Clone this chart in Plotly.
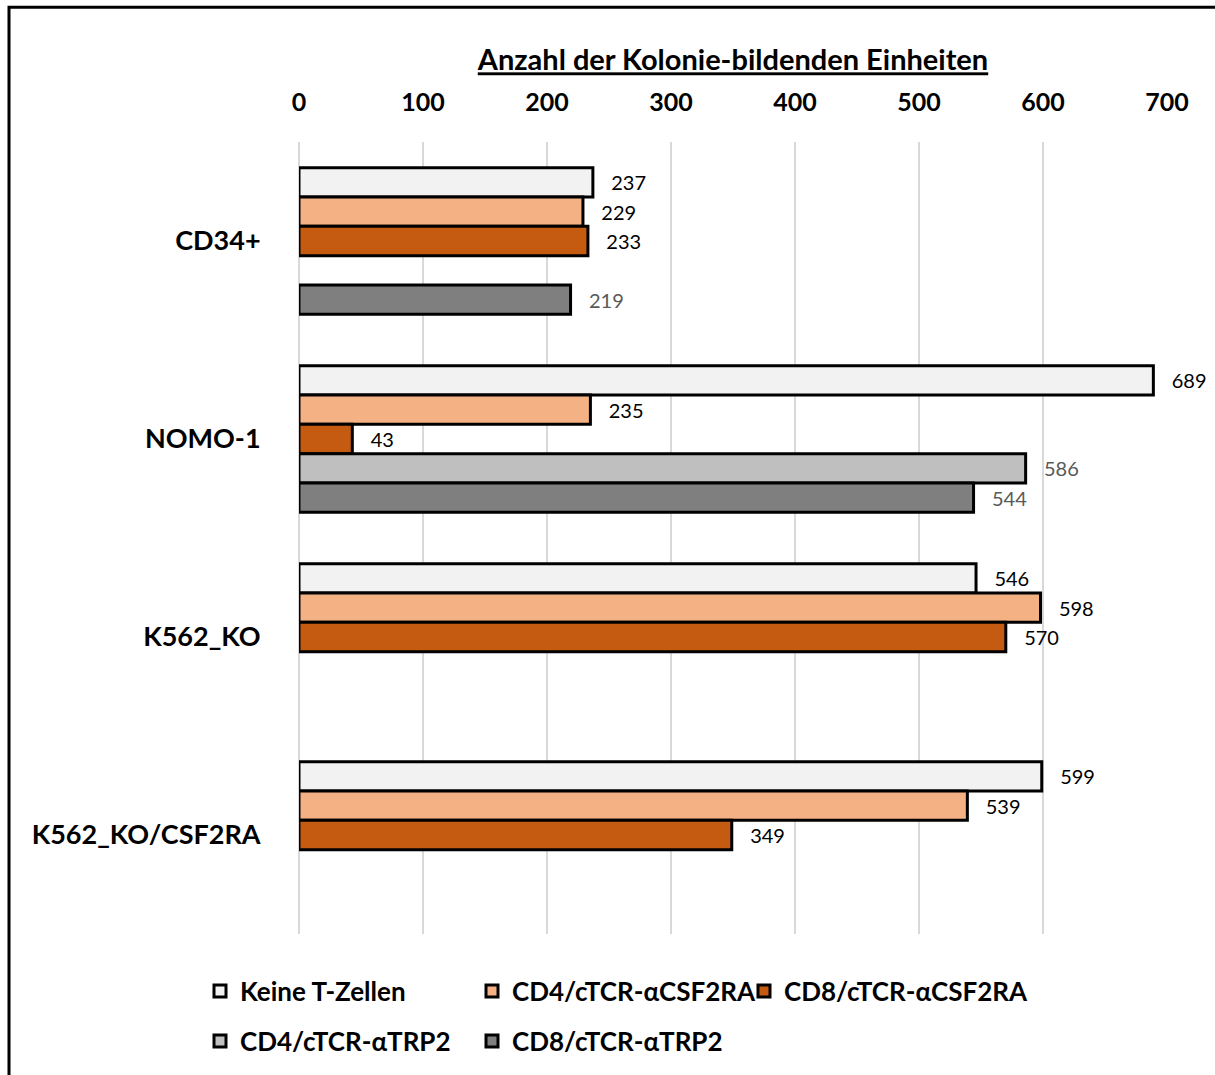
import plotly.graph_objects as go

# Cell lines (top to bottom) and colony counts per T-cell condition
categories = ["CD34+", "NOMO-1", "K562_KO", "K562_KO/CSF2RA"]
series_names = [
    "Keine T-Zellen",
    "CD4/cTCR-αCSF2RA",
    "CD8/cTCR-αCSF2RA",
    "CD4/cTCR-αTRP2",
    "CD8/cTCR-αTRP2",
]
keine_t_zellen = [237, 689, 546, 599]
cd4_csf2ra = [229, 235, 598, 539]
cd8_csf2ra = [233, 43, 570, 349]
cd4_trp2 = [None, 586, None, None]
cd8_trp2 = [219, 544, None, None]
x_ticks = [0, 100, 200, 300, 400, 500, 600, 700]

series_values = [keine_t_zellen, cd4_csf2ra, cd8_csf2ra, cd4_trp2, cd8_trp2]
fill_colors = ["#F2F2F2", "#F4B183", "#C55A11", "#BFBFBF", "#7F7F7F"]
label_colors = ["#000000", "#000000", "#000000", "#595959", "#595959"]

FONT = "Lato"

# Plot area in pixels: x 299..1167, y 142..935
L, R, T, B = 299, 48, 142, 140
W, H = 1215, 1075
pw, ph = W - L - R, H - T - B

def px_x(px):
    return (px - L) / pw

def px_y(py):
    return (H - B - py) / ph

# Legend grid: one single-entry legend per item (column x, row y in pixels)
legend_cells = [(200, 991), (472, 991), (744, 991), (200, 1041), (472, 1041)]
legend_ids = ["legend"] + [f"legend{i}" for i in range(2, 6)]

fig = go.Figure()
for name, vals, fc, lc, lg in zip(series_names, series_values, fill_colors, label_colors, legend_ids):
    fig.add_trace(go.Bar(
        y=categories,
        x=vals,
        name=name,
        orientation="h",
        marker=dict(color=fc, line=dict(color="#000000", width=3)),
        texttemplate="   %{x}",
        textposition="outside",
        textfont=dict(family=FONT, size=20, color=lc),
        cliponaxis=False,
        legend=lg,
    ))

legend_font = dict(family=FONT, size=26, color="#000000", weight="bold")
legend_layouts = {}
for lg, (cx, cy) in zip(legend_ids, legend_cells):
    legend_layouts[lg] = dict(
        orientation="v",
        x=px_x(cx),
        xanchor="left",
        y=px_y(cy),
        yanchor="middle",
        font=legend_font,
        bgcolor="rgba(0,0,0,0)",
        itemclick=False,
        itemdoubleclick=False,
    )

fig.update_layout(
    width=W,
    height=H,
    margin=dict(l=L, r=R, t=T, b=B),
    paper_bgcolor="#FFFFFF",
    plot_bgcolor="#FFFFFF",
    font=dict(family=FONT, color="#000000"),
    barmode="group",
    bargap=0.26,
    bargroupgap=0,
    xaxis=dict(
        side="top",
        range=[0, 700],
        tickvals=x_ticks,
        ticktext=[str(t) for t in x_ticks],
        tickfont=dict(family=FONT, size=25, color="#000000", weight="bold"),
        showgrid=True,
        gridcolor="#D9D9D9",
        gridwidth=1.5,
        zeroline=True,
        zerolinecolor="#D9D9D9",
        zerolinewidth=1.5,
        showline=False,
        ticks="outside",
        ticklen=0,
        ticklabelstandoff=20,
        title=dict(
            text="<u>Anzahl der Kolonie-bildenden Einheiten</u>",
            font=dict(family=FONT, size=29, color="#000000", weight="bold"),
            standoff=6,
        ),
    ),
    yaxis=dict(
        type="category",
        autorange="reversed",
        showgrid=False,
        zeroline=False,
        showline=False,
        ticks="outside",
        ticklen=0,
        ticklabelstandoff=32,
        tickfont=dict(family=FONT, size=27, color="#000000", weight="bold"),
    ),
    showlegend=True,
    **legend_layouts,
)

# Outer frame around the chart
fig.add_shape(
    type="rect",
    xref="paper", yref="paper",
    x0=px_x(9), x1=px_x(1300),
    y0=px_y(1200), y1=px_y(7),
    line=dict(color="#000000", width=3),
    fillcolor="rgba(0,0,0,0)",
    layer="above",
)

fig.write_html("out.html")
